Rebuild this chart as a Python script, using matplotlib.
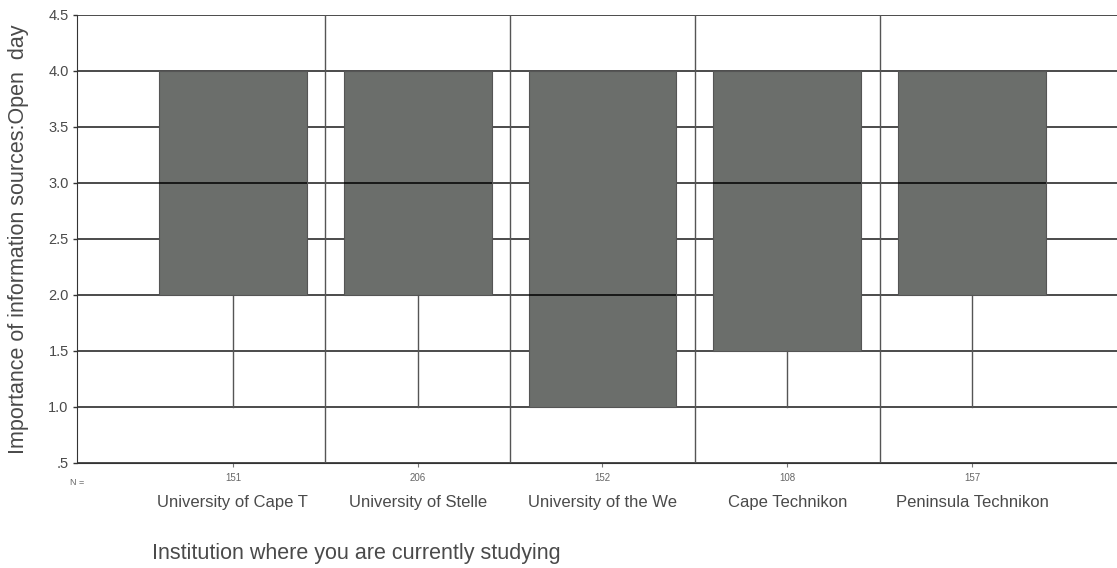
import matplotlib
matplotlib.use("Agg")
import matplotlib.pyplot as plt

categories = ["University of Cape T", "University of Stelle", "University of the We",
              "Cape Technikon", "Peninsula Technikon"]
n_values = [151, 206, 152, 108, 157]
q1 = [2.0, 2.0, 1.0, 1.5, 2.0]
median = [3.0, 3.0, 2.0, 3.0, 3.0]
q3 = [4.0, 4.0, 4.0, 4.0, 4.0]
whisker_low = [1.0, 1.0, 1.0, 1.0, 1.0]
whisker_high = [4.0, 4.0, 4.0, 4.0, 4.0]
y_ticks = [0.5, 1.0, 1.5, 2.0, 2.5, 3.0, 3.5, 4.0, 4.5]
y_tick_labels = [".5", "1.0", "1.5", "2.0", "2.5", "3.0", "3.5", "4.0", "4.5"]

plt.rcParams['font.family'] = ['Liberation Sans', 'DejaVu Sans']
txt = "#4a4a4a"

fig = plt.figure(figsize=(11.17, 5.68), dpi=100)
ax = fig.add_axes([77/1117, 105/568, 1 - 77/1117, (463-15)/568])

positions = list(range(1, len(categories) + 1))
stats = []
for i in range(len(categories)):
    stats.append(dict(q1=q1[i], med=median[i], q3=q3[i], whislo=whisker_low[i],
                      whishi=whisker_high[i], fliers=[], label=categories[i]))

# grid lines behind
for y in y_ticks:
    ax.axhline(y, color="#1a1a1a", lw=1.1, zorder=1)
for x in [1.5, 2.5, 3.5, 4.5]:
    ax.axvline(x, color="#555555", lw=1.0, zorder=1)

ax.bxp(stats, positions=positions, widths=0.8, patch_artist=True, showcaps=False,
       boxprops=dict(facecolor="#6b6e6b", edgecolor="#555555", lw=0.8, zorder=2),
       medianprops=dict(color="#111111", lw=1.3, zorder=3),
       whiskerprops=dict(color="#555555", lw=1.0, zorder=2),
       manage_ticks=False)

ax.set_xlim(0.156, 5.785)
ax.set_ylim(0.5, 4.5)
ax.set_yticks(y_ticks)
ax.set_yticklabels(y_tick_labels, color=txt, fontsize=10.5)
ax.tick_params(axis='y', length=3, width=1, color="#333333", pad=3)
ax.set_xticks(positions)
ax.set_xticklabels([])
ax.tick_params(axis='x', length=3, width=0.8, color="#777777")

for s in ["top", "right"]:
    ax.spines[s].set_visible(False)
ax.spines["left"].set_color("#333333")
ax.spines["bottom"].set_color("#333333")

ax.set_ylabel("Importance of information sources:Open  day", fontsize=15.5, color=txt, labelpad=14)

# N labels and category labels
ax.text(0.156, -0.043, "N =", transform=ax.get_xaxis_transform(), fontsize=6.5,
        color="#666666", ha="center", va="center")
for i, (p, n, c) in enumerate(zip(positions, n_values, categories)):
    ax.text(p, -0.034, str(n), transform=ax.get_xaxis_transform(), fontsize=7,
            color="#666666", ha="center", va="center")
    ax.text(p, -0.088, c, transform=ax.get_xaxis_transform(), fontsize=12,
            color=txt, ha="center", va="center")

fig.text(152/1117, 1 - 553/568, "Institution where you are currently studying",
         fontsize=15.5, color=txt, ha="left", va="center")

fig.savefig("out.png", dpi=100)
